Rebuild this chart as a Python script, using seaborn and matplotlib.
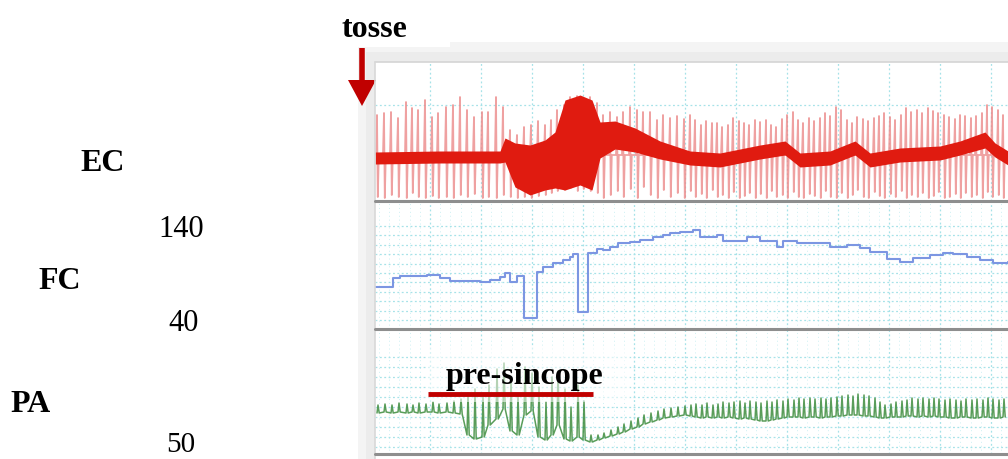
import numpy as np
import seaborn as sns
import matplotlib.pyplot as plt
from matplotlib.patches import Rectangle, Polygon

sns.set_theme(style="white")
plt.rcParams['font.family'] = ['Liberation Serif', 'DejaVu Serif']

# ECG (EC): beat times (px from trace start), spike top / bottom (mm around baseline)
ecg_t = [2, 9, 16, 23, 31, 37, 43, 50, 57, 63,
         71, 78, 85, 92, 99, 107, 113, 121, 128, 135,
         142, 149, 156, 163, 170, 176, 182, 189, 195, 202,
         208, 215, 222, 228, 235, 242, 248, 255, 262, 268,
         275, 282, 288, 295, 302, 309, 315, 320, 326, 331,
         337, 342, 347, 353, 358, 364, 369, 374, 380, 385,
         391, 396, 401, 407, 412, 418, 423, 428, 434, 439,
         445, 450, 455, 461, 466, 472, 477, 482, 488, 493,
         499, 504, 509, 515, 520, 526, 531, 536, 542, 547,
         553, 558, 563, 569, 574, 580, 585, 590, 596, 601,
         607, 612, 617, 623, 628]
ecg_top = [4.0, 4.2, 4.3, 3.7, 5.3, 4.7, 4.5, 5.5, 3.8, 4.2,
           4.8, 5.0, 5.8, 4.5, 3.8, 4.3, 4.3, 5.8, 4.8, 2.5,
           2.0, 2.8, 3.0, 3.4, 3.0, 3.5, 4.5, 5.0, 5.8, 5.9,
           5.7, 5.8, 5.2, 4.0, 4.3, 3.8, 4.3, 4.8, 4.5, 4.3,
           4.3, 3.5, 4.0, 3.7, 3.9, 3.6, 4.0, 3.5, 3.0, 3.4,
           3.2, 3.2, 2.8, 3.0, 3.7, 3.4, 3.2, 3.0, 3.5, 3.3,
           3.5, 3.0, 2.8, 3.6, 4.0, 4.3, 3.5, 3.2, 3.7, 3.4,
           3.7, 4.2, 3.9, 4.8, 4.5, 3.5, 3.2, 3.8, 3.6, 3.4,
           3.7, 3.9, 4.2, 3.8, 3.5, 4.0, 4.7, 4.3, 4.5, 4.2,
           4.7, 4.4, 4.2, 4.0, 3.8, 3.6, 4.0, 3.9, 3.7, 3.9,
           4.2, 5.0, 4.8, 4.5, 4.0]
ecg_bot = [-4.2, -4.3, -4.0, -4.2, -4.3, -3.8, -4.2, -4.3, -4.1, -4.3,
           -4.2, -4.3, -4.0, -4.2, -3.9, -4.3, -4.2, -4.3, -4.0, -4.2,
           -4.3, -4.2, -4.3, -4.1, -4.0, -3.8, -3.6, -3.5, -3.3, -3.6,
           -3.4, -3.6, -3.8, -4.3, -4.0, -3.6, -4.2, -3.4, -4.3, -3.2,
           -4.0, -4.3, -3.5, -4.2, -3.8, -4.3, -3.6, -4.2, -3.9, -4.3,
           -3.5, -4.2, -4.0, -4.3, -3.7, -4.3, -4.1, -3.8, -4.3, -3.9,
           -4.3, -3.6, -4.2, -4.0, -4.3, -3.7, -4.2, -4.3, -3.9, -4.1,
           -4.3, -3.6, -4.2, -4.3, -3.8, -4.3, -4.0, -3.5, -4.2, -4.3,
           -3.7, -4.1, -4.3, -3.9, -4.2, -3.6, -4.3, -4.0, -4.2, -3.8,
           -4.3, -4.1, -3.7, -4.3, -4.2, -3.9, -4.3, -3.8, -4.2, -4.0,
           -4.3, -3.7, -4.2, -4.0, -4.3]

# ECG baseline band (centre and half thickness)
band_t = [0, 65, 125, 130, 140, 155, 170, 180, 190, 205,
          217, 225, 240, 260, 285, 315, 345, 385, 410, 425,
          455, 480, 495, 525, 565, 585, 610, 620, 633]
band_mid = [-0.3, -0.2, -0.2, 0.5, -1.0, -1.5, -1.0, -0.5, 1.0, 1.5,
            1.0, 1.5, 2.0, 1.5, 0.5, -0.3, -0.5, 0.3, 0.7, -0.5,
            -0.3, 0.7, -0.5, 0.0, 0.2, 0.7, 1.5, 0.5, -0.3]
band_half = [0.6, 0.6, 0.6, 1.2, 2.2, 2.5, 2.5, 2.8, 4.5, 4.5,
             4.5, 1.8, 1.4, 1.2, 0.9, 0.7, 0.7, 0.7, 0.7, 0.7,
             0.7, 0.7, 0.7, 0.7, 0.7, 0.7, 0.8, 0.7, 0.7]

# FC (bpm), step trace
fc_t = [0, 18, 25, 52, 65, 75, 105, 115, 125, 130,
        135, 142, 149, 162, 168, 178, 188, 195, 198, 203,
        213, 222, 228, 235, 243, 255, 265, 278, 288, 295,
        305, 318, 325, 342, 348, 372, 385, 402, 408, 422,
        445, 455, 472, 485, 495, 512, 525, 538, 555, 568,
        578, 592, 605, 618, 633]
fc_bpm = [75, 85, 87, 88, 85, 81, 80, 83, 86, 90,
          80, 87, 42, 91, 96, 101, 104, 107, 110, 48,
          111, 116, 114, 118, 122, 123, 125, 128, 130, 133,
          134, 136, 128, 130, 124, 128, 124, 118, 124, 122,
          122, 118, 120, 117, 112, 105, 102, 106, 109, 111,
          110, 107, 104, 101, 102]

# PA (mmHg) per beat, same beats as ECG
pa_sys = [92, 93, 92, 94, 93, 92, 94, 93, 95, 93,
          94, 96, 98, 104, 108, 100, 112, 128, 134, 118,
          102, 130, 124, 110, 95, 120, 126, 108, 90, 112,
          96, 62, 62, 64, 67, 70, 73, 76, 79, 82,
          84, 86, 88, 89, 90, 91, 92, 93, 92, 94,
          92, 93, 95, 94, 95, 96, 94, 96, 95, 94,
          96, 95, 97, 96, 98, 97, 99, 98, 99, 98,
          99, 98, 99, 100, 101, 102, 101, 103, 102, 101,
          99, 95, 92, 93, 95, 96, 97, 99, 98, 99,
          98, 99, 98, 97, 98, 97, 96, 98, 97, 98,
          97, 99, 98, 97, 98]
pa_dia = [84, 85, 84, 85, 84, 85, 84, 85, 85, 84,
          85, 84, 83, 62, 58, 60, 72, 78, 88, 66,
          62, 82, 86, 60, 57, 62, 72, 58, 56, 60,
          57, 55, 57, 59, 61, 63, 65, 68, 70, 73,
          75, 77, 79, 80, 81, 82, 81, 80, 79, 80,
          79, 80, 79, 80, 79, 78, 79, 78, 77, 76,
          76, 77, 78, 79, 80, 80, 80, 79, 80, 80,
          79, 80, 80, 81, 81, 82, 82, 82, 81, 81,
          80, 79, 79, 80, 80, 80, 81, 81, 80, 81,
          80, 81, 80, 80, 79, 79, 80, 80, 79, 79,
          80, 80, 79, 79, 80]

W, H = 1008, 459
fig = plt.figure(figsize=(W / 100, H / 100), dpi=100)


def px_axes(x0, y0, x1, y1):
    return fig.add_axes([x0 / W, 1 - y1 / H, (x1 - x0) / W, (y1 - y0) / H])


# background: soft shadow around the recording panel
bg = px_axes(0, 0, W, H)
bg.set_xlim(0, W)
bg.set_ylim(H, 0)
bg.axis('off')
bg.add_patch(Rectangle((358, 42), W - 358, H - 42, color='#f4f4f4', lw=0))
bg.add_patch(Rectangle((366, 52), W - 366, H - 52, color='#ececec', lw=0))
bg.add_patch(Rectangle((325, 0), 125, 47, color='white', lw=0))
bg.add_patch(Rectangle((375, 62), W - 375, H - 62, color='white', lw=0))


def strip(y0, y1, ylim, hlines, minor=True):
    ax = px_axes(375, y0, W, y1)
    ax.set_xlim(0, 633)
    ax.set_ylim(*ylim)
    ax.patch.set_alpha(0)
    for s in ax.spines.values():
        s.set_visible(False)
    ax.set_xticks(np.arange(55, 633, 51))
    if minor:
        ax.set_xticks(np.arange(4, 633, 10.2), minor=True)
    ax.set_yticks(hlines)
    ax.tick_params(which='both', length=0, labelbottom=False, labelleft=False)
    ax.grid(True, which='major', color='#a6e2e8', linestyle=(0, (1.5, 2)), lw=0.9)
    if minor:
        ax.grid(True, which='minor', axis='x', color='#cdf0f3', linestyle=(0, (1, 3)), lw=0.7)
    return ax


# EC strip
ax_ec = strip(62, 201, (-4.6, 9.3), [5.0], minor=False)
t = np.asarray(ecg_t, float)
zero = np.zeros_like(t)
ex = np.column_stack([t - 1.0, t, t + 0.8, t + 1.8]).ravel()
ey = np.column_stack([zero, ecg_top, ecg_bot, zero]).ravel()
sns.lineplot(x=ex, y=ey, ax=ax_ec, estimator=None, sort=False,
             color='#ec8a8a', lw=1.3, alpha=0.8, zorder=2)
mid = np.asarray(band_mid)
half = np.asarray(band_half)
ax_ec.fill_between(band_t, mid - half, mid + half, color='#e01b10', lw=0, zorder=3)

# FC strip
ax_fc = strip(201, 329, (30.4, 166.6), np.arange(40, 141, 10))
sns.lineplot(x=fc_t, y=fc_bpm, ax=ax_fc, estimator=None, sort=False,
             drawstyle='steps-post', color='#7c96e2', lw=1.5)

# PA strip
ax_pa = strip(329, 454, (43, 168), np.arange(50, 141, 10))
sys_ = np.asarray(pa_sys, float)
dia_ = np.asarray(pa_dia, float)
px = np.column_stack([t, t + 1.0, t + 2.2]).ravel()
py = np.column_stack([dia_, sys_, dia_]).ravel()
sns.lineplot(x=px, y=py, ax=ax_pa, estimator=None, sort=False,
             color='#3d8c3d', lw=1.1, alpha=0.85)

# overlay: frame, separators, labels, arrow
ov = px_axes(0, 0, W, H)
ov.set_xlim(0, W)
ov.set_ylim(H, 0)
ov.axis('off')
ov.patch.set_alpha(0)
ov.set_zorder(10)

ov.plot([375, W], [62, 62], color='#d4d4d4', lw=1.2)
ov.plot([375, 375], [62, H], color='#d8d8d8', lw=1.2)
for y in [201, 329, 454]:
    ov.plot([375, W], [y, y], color='#8e8e8e', lw=2.2)

ov.plot([362, 362], [48, 82], color='#c00000', lw=4, solid_capstyle='butt')
ov.add_patch(Polygon([(348, 80), (376, 80), (362, 106)], closed=True, color='#c00000', lw=0))

ov.add_patch(Rectangle((427, 347), 203, 55, facecolor='white', alpha=0.55, lw=0))

bold = dict(fontsize=23, fontweight='bold', color='black', ha='center', va='baseline')
reg = dict(fontsize=22, color='black', ha='center', va='baseline')
ov.text(374, 37, 'tosse', **bold)
ov.text(103, 171, 'EC', **bold)
ov.text(60, 289, 'FC', **bold)
ov.text(31, 412, 'PA', **bold)
ov.text(181, 237, '140', **reg)
ov.text(184, 331, '40', **reg)
ov.text(181, 452, '50', fontsize=21, color='black', ha='center', va='baseline')
ov.text(524, 384, 'pre-sincope', **bold)
ov.plot([428, 593], [394, 394], color='#c00000', lw=3.5, solid_capstyle='butt')

fig.savefig('out.png', dpi=100)
